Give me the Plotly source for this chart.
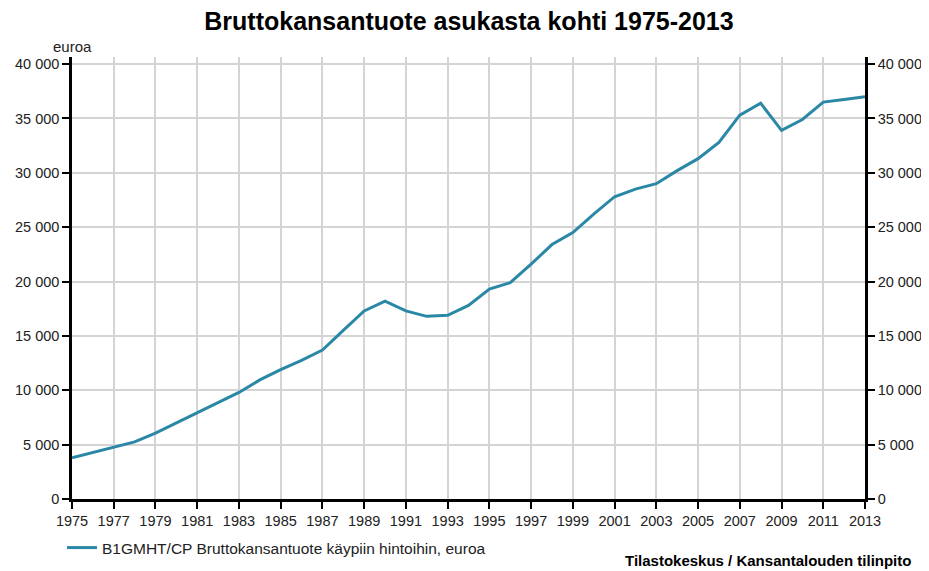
import plotly.graph_objects as go

years = list(range(1975, 2014))
gdp_per_capita = [3800, 4300, 4750, 5250, 6050, 7000, 7900, 8850, 9800, 10950,
                  11900, 12750, 13700, 15500, 17300, 18200, 17300, 16800, 16900, 17800,
                  19300, 19900, 21600, 23400, 24500, 26200, 27800, 28500, 29000, 30200,
                  31300, 32800, 35300, 36400, 33900, 34900, 36500, 36750, 37000]
tick_years = list(range(1975, 2014, 2))
y_ticks = list(range(0, 40001, 5000))

series_name = "B1GMHT/CP Bruttokansantuote käypiin hintoihin, euroa"
title_text = "Bruttokansantuote asukasta kohti 1975-2013"
source_text = "Tilastokeskus / Kansantalouden tilinpito"

FONT = "Liberation Sans, Arial, sans-serif"
OFF = 8  # page body margin
W, H = 929, 571
# target page-pixel positions converted to figure coords
PL, PR, PT, PB = 72 - OFF, 865 - OFF, 57 - OFF, 499 - OFF
L, R, T, B = PL, W - PR, PT, H - PB
pw, ph = PR - PL, PB - PT


def px(x):
    return (x - OFF - PL) / pw


def py(y):
    return (PB - (y - OFF)) / ph


fig = go.Figure()
fig.add_trace(go.Scatter(x=years, y=gdp_per_capita, mode="lines", name=series_name,
                         line=dict(color="#2a88a6", width=3), yaxis="y"))
fig.add_trace(go.Scatter(x=years, y=gdp_per_capita, mode="lines", showlegend=False,
                         line=dict(color="rgba(0,0,0,0)", width=0), yaxis="y2",
                         hoverinfo="skip"))

axis_common = dict(showline=True, linecolor="black", linewidth=2.5,
                   ticks="outside", ticklen=7, tickwidth=2, tickcolor="black",
                   automargin=False,
                   tickfont=dict(family=FONT, size=14.5, color="#222"))

yr = [0, 40650]
fig.update_layout(
    width=W, height=H,
    margin=dict(l=L, r=R, t=T, b=B),
    paper_bgcolor="white", plot_bgcolor="white",
    separators=", ",
    font=dict(family=FONT, size=14, color="#222"),
    title=dict(text="<b>" + title_text + "</b>", x=(469 - OFF) / W, xanchor="center",
               y=1 - (21 - OFF) / H, yanchor="middle",
               font=dict(family=FONT, size=25, color="black"), automargin=False),
    xaxis=dict(range=[1975, 2013], tickvals=tick_years, showgrid=True,
               gridcolor="#d4d4d4", gridwidth=1.5, zeroline=False, mirror=False,
               **axis_common),
    yaxis=dict(range=yr, tickvals=y_ticks, tickformat=",d", showgrid=True,
               gridcolor="#d4d4d4", gridwidth=1.5, zeroline=False, **axis_common),
    yaxis2=dict(range=yr, tickvals=y_ticks, tickformat=",d", overlaying="y",
                side="right", showgrid=False, zeroline=False, **axis_common),
    legend=dict(orientation="h", x=px(62), xanchor="left", y=py(548),
                yanchor="middle", font=dict(family=FONT, size=15.5, color="#222"),
                bgcolor="rgba(0,0,0,0)"),
    annotations=[
        dict(text="euroa", xref="paper", yref="paper", x=px(72), y=py(46),
             xanchor="center", yanchor="middle", showarrow=False,
             font=dict(family=FONT, size=15, color="#222")),
        dict(text="<b>" + source_text + "</b>", xref="paper", yref="paper",
             x=px(913), y=py(560), xanchor="right",
             yanchor="middle", showarrow=False,
             font=dict(family=FONT, size=15, color="black")),
    ],
)

fig.write_html("out.html")
